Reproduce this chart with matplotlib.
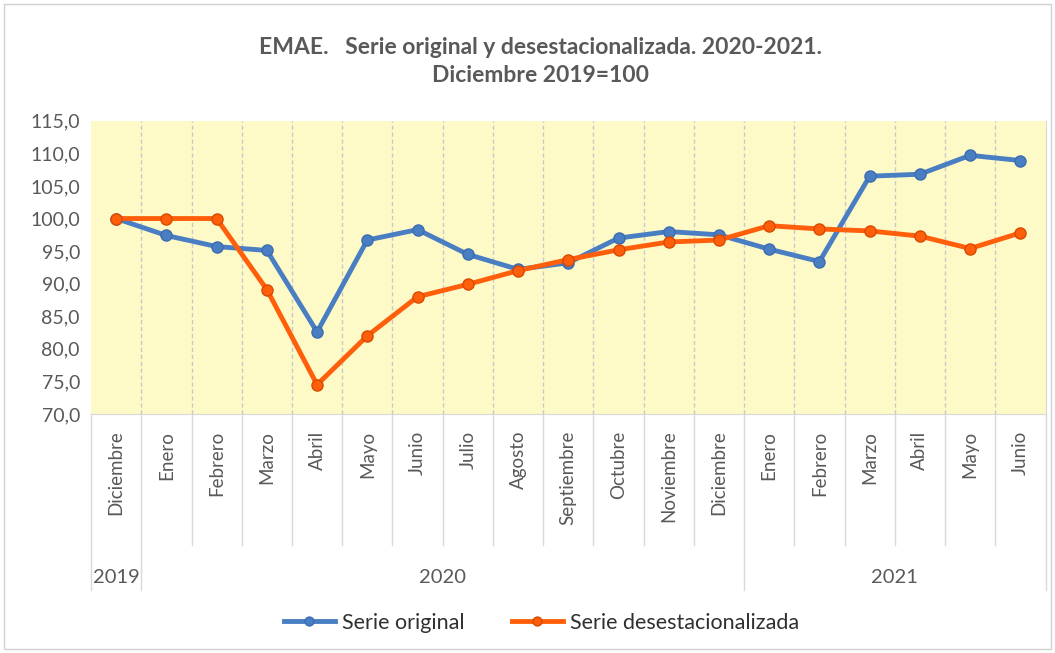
import numpy as np
import matplotlib
matplotlib.use("Agg")
import matplotlib.pyplot as plt
from matplotlib.patches import Rectangle
from matplotlib.ticker import FuncFormatter

plt.rcParams['font.family'] = ['Lato', 'DejaVu Sans']

months = ["Diciembre", "Enero", "Febrero", "Marzo", "Abril", "Mayo", "Junio",
          "Julio", "Agosto", "Septiembre", "Octubre", "Noviembre", "Diciembre",
          "Enero", "Febrero", "Marzo", "Abril", "Mayo", "Junio"]
years = ["2019", "2020", "2021"]
year_counts = [1, 12, 6]

serie_original = [100.0, 97.4, 95.7, 95.1, 82.6, 96.7, 98.3, 94.5, 92.2, 93.2,
                  97.0, 98.0, 97.5, 95.3, 93.4, 106.5, 106.8, 109.7, 108.9]
serie_desest = [100.0, 100.0, 100.0, 89.1, 74.5, 82.0, 88.0, 89.9, 92.0, 93.7,
                95.2, 96.4, 96.7, 98.9, 98.4, 98.1, 97.3, 95.4, 97.8]

blue = "#4A7EC2"
orange = "#FF5F0A"
grey_txt = "#595959"

fig = plt.figure(figsize=(10.55, 6.53), dpi=100)
ax = fig.add_axes([0.0863, 0.366, 0.9047, 0.449])
fig.patches.append(Rectangle((0.004, 0.006), 0.992, 0.988, transform=fig.transFigure,
                             fill=False, edgecolor="#D0D0D0", lw=1))

x = np.arange(len(months))
ax.set_facecolor("#FEFAC8")
ax.plot(x, serie_original, color=blue, lw=3.5, marker="o", ms=8,
        mfc=blue, mec="#3C6CB0", label="Serie original", zorder=3)
ax.plot(x, serie_desest, color=orange, lw=3.5, marker="o", ms=8,
        mfc=orange, mec="#D84A00", label="Serie desestacionalizada", zorder=3)

ax.set_xlim(-0.5, len(months) - 0.5)
ax.set_ylim(70, 115)
ax.set_yticks(np.arange(70, 116, 5))
ax.yaxis.set_major_formatter(FuncFormatter(lambda v, p: f"{v:.1f}".replace(".", ",")))
ax.tick_params(axis="y", length=0, labelsize=14, labelcolor=grey_txt, pad=8)

ax.set_xticks(x)
ax.set_xticklabels(months, rotation=90, fontsize=13.5, color=grey_txt)
ax.tick_params(axis="x", length=0, pad=12)

for s in ["top", "left"]:
    ax.spines[s].set_visible(False)
ax.spines["bottom"].set_color("#D9D9D9")
ax.spines["right"].set_color("#D9D9D9")

# vertical gridlines at category boundaries
for b in np.arange(0.5, len(months) - 0.5, 1):
    ax.axvline(b, color="#C8C8C8", lw=1, ls=(0, (3, 2)), zorder=1)

# separators below axis
trans = ax.get_xaxis_transform()
year_bounds = list(np.cumsum([0] + year_counts) - 0.5)
for b in np.arange(-0.5, len(months), 1):
    bottom = -176 / 293 if b in year_bounds else -131 / 293
    ax.plot([b, b], [0, bottom], transform=trans, color="#D9D9D9", lw=1, clip_on=False)

start = 0
for yr, n in zip(years, year_counts):
    center = start + (n - 1) / 2
    ax.text(center, -163 / 293, yr, transform=trans, ha="center", va="center",
            fontsize=14.5, color=grey_txt)
    start += n

fig.text(0.512, 0.928, "EMAE.   Serie original y desestacionalizada. 2020-2021.",
         ha="center", va="center", fontsize=16.5, fontweight="bold", color=grey_txt)
fig.text(0.512, 0.884, "Diciembre 2019=100",
         ha="center", va="center", fontsize=16.5, fontweight="bold", color=grey_txt)

fig.legend(loc="center", bbox_to_anchor=(0.513, 0.046), ncol=2, frameon=False,
           fontsize=15.5, handlelength=2.4, handletextpad=0.3, columnspacing=2.2,
           markerscale=0.8, labelcolor="#303030")

fig.savefig("out.png", dpi=100)
